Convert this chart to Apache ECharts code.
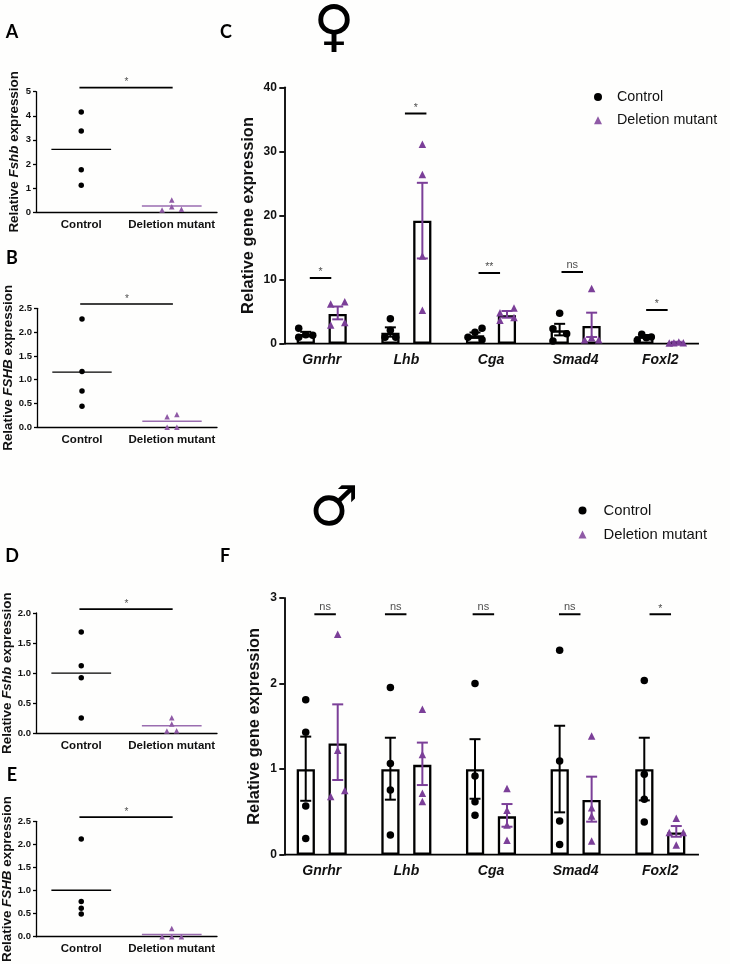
<!DOCTYPE html>
<html><head><meta charset="utf-8">
<style>html,body{margin:0;padding:0;background:#fefefd}#c{width:730px;height:964px}</style>
<script src="https://cdn.jsdelivr.net/npm/echarts@6/dist/echarts.min.js"></script>
</head><body><div id="c"></div>
<script>
// ---------- data ----------
const dotCategories = ['Control', 'Deletion mutant'];
const genes = ['Gnrhr', 'Lhb', 'Cga', 'Smad4', 'Foxl2'];

const aControl = [4.155, 3.37, 1.76, 1.11];
const aMutant = [0.5, 0.22, 0.08, 0.11];
const aMutantJitter = [0, 0, -0.107, 0.107];
const aMeans = [2.6, 0.25];
const aSig = 5.17;

const bControl = [2.276, 1.17, 0.763, 0.44];
const bMutant = [0.22, 0.27, 0.0, 0.0];
const bMutantJitter = [-0.054, 0.054, -0.054, 0.054];
const bMeans = [1.16, 0.126];
const bSig = 2.59;

const dControl = [1.684, 1.125, 0.925, 0.255];
const dMutant = [0.26, 0.155, 0.04, 0.044];
const dMutantJitter = [0, 0, -0.054, 0.054];
const dMeans = [1.0, 0.127];
const dSig = 2.066;

const eControl = [2.118, 0.764, 0.618, 0.493];
const eMutant = [0.18, 0.0, 0.0, 0.0];
const eMutantJitter = [0, -0.107, 0, 0.107];
const eMeans = [1.007, 0.05];
const eSig = 2.59;

const cControlMean = [1.5, 1.7, 1.3, 2.08, 1.15];
const cMutantMean = [4.65, 19.2, 4.43, 2.76, 0.2];
const cControlLow = [1.15, 1.1, 0.9, 1.3, 0.95];
const cControlHigh = [1.85, 2.55, 1.75, 3.1, 1.35];
const cMutantLow = [3.8, 13.3, 4.06, 1.04, 0.07];
const cMutantHigh = [5.8, 25.1, 5.1, 4.84, 0.3];
const cControlPoints = [[2.4, 1.0, 1.4, 1.3], [3.9, 2.1, 1.0, 1.0], [1.0, 1.8, 2.4, 0.6], [4.74, 2.34, 1.56, 0.42], [1.46, 0.52, 0.94, 1.04]];
const cControlJitter = [[-0.083, -0.083, 0, 0.083], [0, 0, -0.063, 0.063], [-0.083, 0, 0.083, 0.083], [0, -0.079, 0.083, -0.079], [-0.03, -0.083, 0.024, 0.083]];
const cMutantPoints = [[6.2, 6.56, 2.9, 3.3], [31.1, 26.4, 13.7, 5.2], [4.84, 5.57, 3.65, 4.1], [8.6, 0.63, 0.63, 0.94], [0.1, 0.15, 0.25, 0.15]];
const cMutantJitter = [[-0.083, 0.083, -0.083, 0.083], [0, 0, 0, 0], [-0.083, 0.083, -0.083, 0.083], [0, -0.083, 0.083, 0], [-0.083, -0.028, 0.03, 0.083]];
const cSigLevel = [10.26, 35.9, 11.03, 11.18, 5.25];
const cSigCentre = [-0.014, 1.11, 1.98, 2.96, 3.96];
const cSigText = ['*', '*', '**', 'ns', '*'];

const fControlMean = [1, 1, 1, 1, 1];
const fMutantMean = [1.3, 1.05, 0.448, 0.64, 0.26];
const fControlLow = [0.63, 0.643, 0.654, 0.495, 0.635];
const fControlHigh = [1.38, 1.367, 1.35, 1.507, 1.367];
const fMutantLow = [0.873, 0.814, 0.327, 0.386, 0.21];
const fMutantHigh = [1.757, 1.31, 0.592, 0.912, 0.335];
const fControlPoints = [[1.81, 1.43, 0.57, 0.19], [1.955, 1.067, 0.756, 0.23], [2.0, 0.92, 0.62, 0.46], [2.39, 1.095, 0.393, 0.12], [2.037, 0.94, 0.647, 0.382]];
const fControlJitter = [[0, 0, 0, 0], [0, 0, 0, 0], [0, 0, 0, 0], [0, 0, 0, 0], [0, 0, 0, 0]];
const fMutantPoints = [[2.575, 1.22, 0.75, 0.68], [1.7, 1.17, 0.717, 0.623], [0.775, 0.52, 0.347, 0.17], [1.387, 0.55, 0.452, 0.16], [0.425, 0.26, 0.26, 0.113]];
const fMutantJitter = [[0, 0, 0.083, -0.083], [0, 0, 0, 0], [0, 0, 0, 0], [0, 0, 0, 0], [0, -0.083, 0.083, 0]];
const fSigLevel = [2.81, 2.81, 2.81, 2.81, 2.81];
const fSigCentre = [0.04, 0.874, 1.91, 2.93, 4.0];
const fSigText = ['ns', 'ns', 'ns', 'ns', '*'];

// ---------- styling ----------
const BLACK = '#000', PURPLE = '#7b3f98', LIGHT = '#8f5aa6', MEANP = '#9a6db0', TXT = '#111';
const FONT = '"Liberation Sans", Arial, sans-serif';
const grids = [], xAxes = [], yAxes = [], series = [];

function baseAxes(g, cats, y, cfg) {
  const i = grids.length;
  grids.push(g);
  xAxes.push({
    type: 'category', gridIndex: i, data: cats,
    axisTick: { alignWithLabel: true, length: cfg.tick, lineStyle: { color: BLACK, width: cfg.w } },
    axisLine: { show: cfg.xLine, onZero: false, lineStyle: { color: BLACK, width: cfg.w } },
    axisLabel: { interval: 0, color: TXT, fontFamily: FONT, fontWeight: 'bold', fontSize: cfg.xFont, fontStyle: cfg.xItalic ? 'italic' : 'normal', margin: cfg.xMargin, hideOverlap: false },
    splitLine: { show: false }
  });
  xAxes.push({ type: 'value', gridIndex: i, show: false, min: -0.5, max: cats.length - 0.5, splitLine: { show: false } });
  yAxes.push({
    type: 'value', gridIndex: i, min: 0, max: y.max, interval: y.interval, offset: cfg.yOffset || 0,
    name: y.title, nameLocation: 'middle', nameGap: cfg.nameGap, nameRotate: 90, nameMoveOverlap: false,
    nameTextStyle: { color: TXT, fontFamily: FONT, fontWeight: 'bold', fontSize: cfg.nameFont,
      rich: { i: { fontFamily: FONT, fontWeight: 'bold', fontStyle: 'italic', fontSize: cfg.nameFont, color: TXT } } },
    axisLine: { show: true, onZero: false, lineStyle: { color: BLACK, width: cfg.w } },
    axisTick: { show: true, length: cfg.tick, lineStyle: { color: BLACK, width: cfg.w } },
    axisLabel: { color: TXT, fontFamily: FONT, fontWeight: 'bold', fontSize: cfg.yFont, margin: cfg.yMargin,
      formatter: v => y.decimals ? v.toFixed(y.decimals) : String(v) },
    splitLine: { show: false }
  });
  return i;
}
function hLine(i, x0, x1, y, color, width) {
  series.push({ type: 'line', xAxisIndex: 2 * i + 1, yAxisIndex: i, data: [[x0, y], [x1, y]], symbol: 'none', clip: false, silent: true,
    lineStyle: { color, width }, z: 3 });
}
function note(i, x, y, text, size, dist) {
  series.push({ type: 'scatter', xAxisIndex: 2 * i + 1, yAxisIndex: i, data: [[x, y]], symbolSize: 0, clip: false, silent: true,
    label: { show: true, position: 'top', distance: dist, formatter: text, color: '#222', fontFamily: FONT, fontSize: size } });
}
function scatter(i, name, pts, symbol, size, color) {
  series.push({ type: 'scatter', name, xAxisIndex: 2 * i + 1, yAxisIndex: i, data: pts, symbol, symbolSize: size, clip: false,
    itemStyle: { color, opacity: 1 }, z: 4 });
}

function dotPanel(g, y, control, mutant, jitter, means, sig) {
  const i = baseAxes(g, dotCategories, y, { tick: 3, w: 1.3, xLine: true, xFont: 11.5, xMargin: 6.5, yFont: 9.5, yMargin: 5, nameGap: y.gap, nameFont: 13.4 });
  scatter(i, 'Control', control.map(v => [0, v]), 'circle', 5.5, BLACK);
  scatter(i, 'Deletion mutant', mutant.map((v, k) => [1 + jitter[k], v]), 'triangle', 5.5, LIGHT);
  hLine(i, -0.33, 0.33, means[0], BLACK, 1.3);
  hLine(i, 0.67, 1.33, means[1], MEANP, 1.5);
  hLine(i, -0.02, 1.01, sig, BLACK, 1.7);
  note(i, 0.5, sig, '*', 10, 0);
}

function errorBars(i, xs, low, high, color) {
  series.push({
    type: 'custom', xAxisIndex: 2 * i + 1, yAxisIndex: i, clip: false, silent: true, z: 3,
    data: xs.map((x, k) => [x, low[k], high[k]]),
    encode: { x: 0, y: [1, 2] },
    renderItem(params, api) {
      const a = api.coord([api.value(0), api.value(1)]), b = api.coord([api.value(0), api.value(2)]);
      const style = { stroke: color, lineWidth: 2, fill: 'none' };
      const seg = (x1, y1, x2, y2) => ({ type: 'line', shape: { x1, y1, x2, y2 }, style });
      return { type: 'group', children: [seg(a[0], a[1], b[0], b[1]), seg(a[0] - 5.5, a[1], a[0] + 5.5, a[1]), seg(b[0] - 5.5, b[1], b[0] + 5.5, b[1])] };
    }
  });
}
function barPanel(g, y, d) {
  const i = baseAxes(g, genes, y, { tick: 5, w: 1.8, xLine: false, xItalic: true, xFont: 14, xMargin: 9, yFont: 12, yMargin: 7.5, nameGap: y.gap, nameFont: 16.4, yOffset: -4.9 });
  const bar = (values) => series.push({ type: 'bar', xAxisIndex: 2 * i, yAxisIndex: i, data: values, barWidth: 18.2, barGap: '75%', silent: true,
    itemStyle: { color: 'rgba(255,255,255,0)', borderColor: BLACK, borderWidth: 2.3 }, z: 2 });
  bar(d.cMean); bar(d.mMean);
  hLine(i, -0.442, 4.457, 0, BLACK, 1.8);
  const off = 0.189;
  errorBars(i, genes.map((_, k) => k - off), d.cLow, d.cHigh, BLACK);
  errorBars(i, genes.map((_, k) => k + off), d.mLow, d.mHigh, PURPLE);
  scatter(i, 'Control', d.cPts.flatMap((a, k) => a.map((v, n) => [k - off + d.cJit[k][n], v])), 'circle', 7.5, BLACK);
  scatter(i, 'Deletion mutant', d.mPts.flatMap((a, k) => a.map((v, n) => [k + off + d.mJit[k][n], v])), 'triangle', 7.5, PURPLE);
  d.sigC.forEach((c, k) => {
    hLine(i, c - 0.127, c + 0.127, d.sigY[k], BLACK, 2);
    note(i, c, d.sigY[k], d.sigT[k], d.sigT[k] === 'ns' ? 11 : 10.5, d.sigT[k] === 'ns' ? 2 : 0);
  });
}

dotPanel({ left: 36, top: 91.7, width: 181, height: 120.3 }, { max: 5, interval: 1, title: 'Relative {i|Fshb} expression', gap: 14.7 }, aControl, aMutant, aMutantJitter, aMeans, aSig);
dotPanel({ left: 37, top: 308.3, width: 180, height: 119 }, { max: 2.5, interval: 0.5, decimals: 1, title: 'Relative {i|FSHB} expression', gap: 22 }, bControl, bMutant, bMutantJitter, bMeans, bSig);
dotPanel({ left: 36, top: 613, width: 181, height: 120.3 }, { max: 2, interval: 0.5, decimals: 1, title: 'Relative {i|Fshb} expression', gap: 22 }, dControl, dMutant, dMutantJitter, dMeans, dSig);
dotPanel({ left: 36, top: 821.3, width: 181, height: 120 }, { max: 2.5, interval: 0.5, decimals: 1, title: 'Relative {i|FSHB} expression', gap: 22 }, eControl, eMutant, eMutantJitter, eMeans, eSig);
barPanel({ left: 279.4, top: 87.3, width: 423.2, height: 256.4 }, { max: 40, interval: 10, title: 'Relative gene expression', gap: 28 },
  { cMean: cControlMean, mMean: cMutantMean, cLow: cControlLow, cHigh: cControlHigh, mLow: cMutantLow, mHigh: cMutantHigh, cPts: cControlPoints, cJit: cControlJitter, mPts: cMutantPoints, mJit: cMutantJitter, sigY: cSigLevel, sigC: cSigCentre, sigT: cSigText });
barPanel({ left: 279.4, top: 598, width: 423.2, height: 256.7 }, { max: 3, interval: 1, title: 'Relative gene expression', gap: 22 },
  { cMean: fControlMean, mMean: fMutantMean, cLow: fControlLow, cHigh: fControlHigh, mLow: fMutantLow, mHigh: fMutantHigh, cPts: fControlPoints, cJit: fControlJitter, mPts: fMutantPoints, mJit: fMutantJitter, sigY: fSigLevel, sigC: fSigCentre, sigT: fSigText });

const legendNames = ['Control', 'Deletion mutant'];
function legend(left, top, font, pad, gap) {
  return { show: true, orient: 'vertical', left, top, itemWidth: 8, itemHeight: 8, itemGap: gap, selectedMode: false,
    data: [{ name: legendNames[0], icon: 'circle' }, { name: legendNames[1], icon: 'triangle' }],
    textStyle: { color: '#111', fontFamily: FONT, fontSize: font, padding: [0, 0, 0, pad] } };
}
const letter = (text, x, y) => ({ type: 'text', x, y, style: { text, fill: '#000', fontFamily: 'Lato', fontWeight: 'bold', fontSize: 18, align: 'center', verticalAlign: 'middle' } });
const sex = (text, x, y, size) => ({ type: 'text', x, y, style: { text, fill: '#000', fontFamily: '"DejaVu Sans"', fontWeight: 'bold', fontSize: size, align: 'center', verticalAlign: 'middle' } });

const chart = echarts.init(document.getElementById('c'), null, { renderer: 'canvas' });
chart.setOption({
  animation: false, backgroundColor: '#fefefd',
  grid: grids, xAxis: xAxes, yAxis: yAxes, series,
  legend: [legend(589, 85, 14.3, 10, 9.3), legend(573.5, 498, 14.8, 12, 9)],
  graphic: [letter('A', 12, 32), letter('B', 12, 258), letter('C', 226, 32), letter('D', 12, 556), letter('E', 12, 775), letter('F', 225, 556),
    sex('\u2640', 334, 30, 56), sex('\u2642', 334, 511, 55)]
});
</script></body></html>
